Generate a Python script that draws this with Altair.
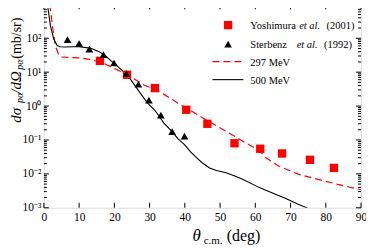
import json
import altair as alt
import pandas as pd

# ---------------- data ----------------
yosh_x = [15.9, 23.6, 31.5, 40.4, 46.4, 54.1, 61.4, 67.6, 75.5, 82.3]
yosh_y = [21.5, 8.4, 3.4, 0.78, 0.30, 0.080, 0.055, 0.040, 0.026, 0.015]

ster_x = [6.7, 10.0, 12.9, 16.9, 19.9, 23.4, 26.8, 29.8, 33.2, 36.4, 39.9]
ster_y = [91, 70, 48, 33, 18.6, 9.0, 4.4, 1.5, 0.54, 0.176, 0.13]

red_x = [1.7, 2.5, 3.3, 4.2, 5.0, 8.0, 10.7, 13.5, 16.3, 20.0, 23.8, 28.4, 32.0, 34.0,
         38.7, 42.0, 45.0, 49.0, 53.0, 57.0, 61.0, 63.0, 66.6, 72.2, 77.8, 83.4, 90.0]
red_y = [1000, 200, 57, 33, 28, 27, 26, 23, 19.6, 13, 8.3, 4.2, 2.9, 2.25,
         1.1, 0.7, 0.45, 0.26, 0.15, 0.085, 0.05, 0.03, 0.017, 0.0098, 0.0069, 0.0049, 0.0034]

blk_x = [1.0, 1.9, 2.8, 3.7, 4.5, 6.0, 8.0, 10.0, 12.0, 13.5, 15.5, 17.2, 19.0, 21.0, 23.0,
         24.7, 26.8, 29.3, 31.5, 34.0, 36.4, 38.0, 39.9, 41.5, 43.3, 45.0, 47.0, 49.0, 51.7,
         54.0, 56.4, 61.0, 65.7, 68.5, 72.0, 75.0]
blk_y = [1000, 220, 95, 62, 56, 55, 56, 56, 53, 50, 41, 32, 22, 14.5, 9.5,
         5.9, 2.9, 1.27, 0.75, 0.32, 0.176, 0.11, 0.073, 0.046, 0.030, 0.021, 0.015, 0.0125, 0.0108,
         0.0088, 0.0069, 0.0040, 0.0025, 0.0019, 0.0013, 0.00096]

x_ticks = [0, 10, 20, 30, 40, 50, 60, 70, 80, 90]
y_ticks = [1e-3, 1e-2, 1e-1, 1e0, 1e1, 1e2, 1e3]
y_tick_labels = ["10⁻³", "10⁻²", "10⁻¹", "10⁰", "10¹", "10²", "10³"]
y_minor = [m * 10.0 ** k for k in range(-3, 3) for m in range(2, 10)]

legend_labels = ["Yoshimura", "Sterbenz", "297 MeV", "500 MeV"]

# ---------------- layout ----------------
W, H = 318, 204
FONT = "Liberation Serif"
RED = "#ff0000"

xs = alt.Scale(domain=[0, 90], nice=False, zero=False)
ys = alt.Scale(type="log", domain=[1e-3, 1e3], nice=False)

label_expr = json.dumps(y_tick_labels) + "[round(log(datum.value)/LN10)+3]"

xax = alt.Axis(values=x_ticks, ticks=False, domain=False, grid=False, labelFont=FONT,
               labelFontSize=11.5, labelColor="black", labelPadding=4, title=None,
               labelFlush=False, labelOverlap=False)
yax = alt.Axis(values=y_ticks, ticks=False, domain=False, grid=False, labelFont=FONT,
               labelFontSize=11.5, labelColor="black", labelPadding=3, title=None,
               labelExpr=label_expr, labelFlush=False, labelOverlap=False)

yd = pd.DataFrame({"x": yosh_x, "y": yosh_y})
sd = pd.DataFrame({"x": ster_x, "y": ster_y})
rd = pd.DataFrame({"x": red_x, "y": red_y})
bd = pd.DataFrame({"x": blk_x, "y": blk_y})

X = lambda: alt.X("x:Q", scale=xs, axis=xax)
Y = lambda: alt.Y("y:Q", scale=ys, axis=yax)

red_line = alt.Chart(rd).mark_line(color=RED, strokeWidth=1.2, strokeDash=[7, 4], clip=True).encode(
    x=X(), y=Y())
blk_line = alt.Chart(bd).mark_line(color="black", strokeWidth=1.1, clip=True).encode(
    x=X(), y=Y())
yosh = alt.Chart(yd).mark_point(shape="square", filled=True, color=RED, size=70, opacity=1).encode(
    x=X(), y=Y())
ster = alt.Chart(sd).mark_point(shape="triangle-up", filled=True, color="black", size=60, opacity=1).encode(
    x=X(), y=Y())

# inward ticks on all four sides
ymaj = pd.DataFrame({"y": y_ticks})
ymin = pd.DataFrame({"y": y_minor})
xmaj = pd.DataFrame({"x": x_ticks})
tick_layers = []
for df, ln in ((ymaj, 5), (ymin, 3)):
    tick_layers.append(alt.Chart(df).mark_rule(color="black", strokeWidth=1).encode(
        y=Y(), x=alt.value(0), x2=alt.value(ln)))
    tick_layers.append(alt.Chart(df).mark_rule(color="black", strokeWidth=1).encode(
        y=Y(), x=alt.value(W), x2=alt.value(W - ln)))
tick_layers.append(alt.Chart(xmaj).mark_rule(color="black", strokeWidth=1).encode(
    x=X(), y=alt.value(H), y2=alt.value(H - 5)))
tick_layers.append(alt.Chart(xmaj).mark_rule(color="black", strokeWidth=1).encode(
    x=X(), y=alt.value(0), y2=alt.value(5)))

one = pd.DataFrame({"a": [0]})


def txt(s, x, y, size, style="normal", angle=0, align="left", baseline="alphabetic"):
    kw = dict(text=s, font=FONT, fontSize=size, fontStyle=style, color="black",
              align=align, baseline=baseline)
    if angle:
        kw["angle"] = angle
    return alt.Chart(one).mark_text(**kw).encode(x=alt.value(x), y=alt.value(y))


# legend
LF = 10.5
leg = [
    alt.Chart(one).mark_point(shape="square", filled=True, color=RED, size=70, opacity=1).encode(
        x=alt.value(184.7), y=alt.value(20.8)),
    alt.Chart(one).mark_point(shape="triangle-up", filled=True, color="black", size=60, opacity=1).encode(
        x=alt.value(184.7), y=alt.value(39.8)),
    alt.Chart(one).mark_rule(color=RED, strokeWidth=1.2, strokeDash=[7, 4]).encode(
        x=alt.value(169), x2=alt.value(200), y=alt.value(57.5)),
    alt.Chart(one).mark_rule(color="black", strokeWidth=1.1).encode(
        x=alt.value(169), x2=alt.value(200), y=alt.value(75.5)),
    txt(legend_labels[0], 207, 24.5, LF),
    txt("et al.", 256, 24.5, LF, "italic"),
    txt("(2001)", 283.5, 24.5, LF),
    txt(legend_labels[1], 207, 43.5, LF),
    txt("et al.", 253.5, 43.5, LF, "italic"),
    txt("(1992)", 281, 43.5, LF),
    txt(legend_labels[2], 207, 61.5, LF),
    txt(legend_labels[3], 207, 79.5, LF),
]

# axis titles
titles = [
    txt("θ", 149, 237.2, 17, "italic"),
    txt("c.m.", 160.3, 240.5, 11),
    txt("(deg)", 183.3, 237.2, 16),
    txt("dσ", -23.3, 118.8, 15, "italic", angle=270),
    txt("pα", -20.5, 98.8, 10, "italic", angle=270),
    txt("/dΩ", -23.3, 89.5, 15, "italic", angle=270),
    txt("pα", -20.5, 65.5, 10, "italic", angle=270),
    txt("(mb/sr)", -23.3, 54.5, 14, angle=270),
]

chart = alt.layer(red_line, blk_line, yosh, ster, *tick_layers, *leg, *titles).properties(
    width=W, height=H,
    autosize=alt.AutoSizeParams(type="none"),
    padding={"left": 36, "top": -4, "right": 5, "bottom": 44},
).configure_view(stroke="black", strokeWidth=1.2).configure(background="white")

chart.save("out.html", embed_options={"renderer": "svg", "actions": False})
